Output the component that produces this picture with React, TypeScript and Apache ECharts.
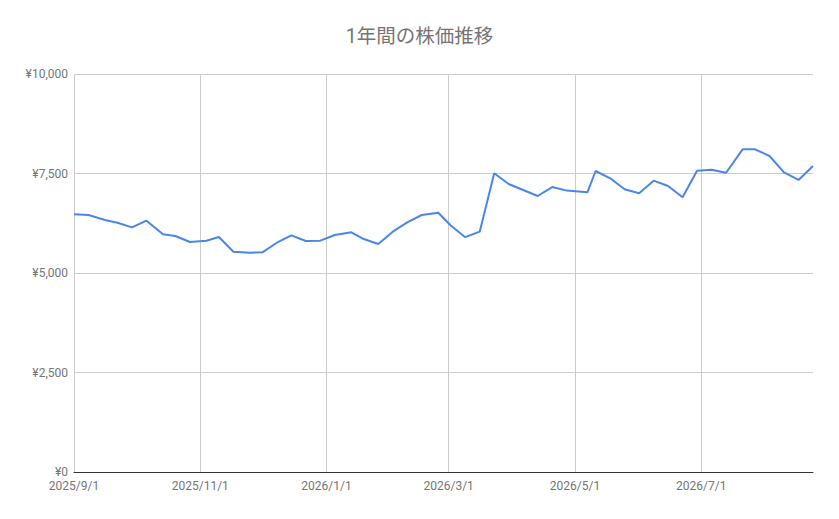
import React, { useEffect, useRef } from "react";
import * as echarts from "echarts";

const titleText = "1年間の株価推移";

// weekly first trading day
const dates = [
  "2025-09-01", "2025-09-08", "2025-09-16", "2025-09-22", "2025-09-29",
  "2025-10-06", "2025-10-14", "2025-10-20", "2025-10-27", "2025-11-04",
  "2025-11-10", "2025-11-17", "2025-11-25", "2025-12-01", "2025-12-08",
  "2025-12-15", "2025-12-22", "2025-12-29", "2026-01-05", "2026-01-13",
  "2026-01-19", "2026-01-26", "2026-02-02", "2026-02-09", "2026-02-16",
  "2026-02-24", "2026-03-02", "2026-03-09", "2026-03-16", "2026-03-23",
  "2026-03-30", "2026-04-06", "2026-04-13", "2026-04-20", "2026-04-27",
  "2026-05-07", "2026-05-11", "2026-05-18", "2026-05-25", "2026-06-01",
  "2026-06-08", "2026-06-15", "2026-06-22", "2026-06-29", "2026-07-06",
  "2026-07-13", "2026-07-21", "2026-07-27", "2026-08-03", "2026-08-10",
  "2026-08-17", "2026-08-24",
];

const prices = [
  6475, 6457, 6332, 6264, 6147, 6315, 5972, 5930, 5779, 5812,
  5905, 5535, 5510, 5520, 5761, 5947, 5804, 5812, 5955, 6022,
  5854, 5729, 6038, 6273, 6457, 6515, 6195, 5900, 6038, 7505,
  7236, 7085, 6935, 7160, 7070, 7027, 7563, 7379, 7103, 7002,
  7320, 7186, 6902, 7570, 7596, 7520, 8108, 8108, 7940, 7530,
  7337, 7688,
];

const xTickDates = ["2025-09-01", "2025-11-01", "2026-01-01", "2026-03-01", "2026-05-01", "2026-07-01"];

const toTime = (s: string) => {
  const [y, m, d] = s.split("-").map(Number);
  return new Date(y, m - 1, d).getTime();
};

const App: React.FC = () => {
  const chartRef = useRef<HTMLDivElement | null>(null);

  useEffect(() => {
    if (!chartRef.current) return;
    const chart = echarts.init(chartRef.current, null, { renderer: "svg" });
    const tickValues = xTickDates.map(toTime);

    chart.setOption({
      animation: false,
      backgroundColor: "#fff",
      title: {
        text: titleText,
        left: "center",
        top: 22,
        textStyle: {
          color: "#757575",
          fontSize: 19.5,
          fontWeight: "normal",
          fontFamily: "Roboto, 'Noto Sans CJK JP', sans-serif",
        },
      },
      grid: { left: 74, right: 26, top: 74, bottom: 47, containLabel: false },
      xAxis: {
        type: "value",
        min: toTime(dates[0]),
        max: toTime(dates[dates.length - 1]),
        axisLine: { show: true, onZero: false, lineStyle: { color: "#333", width: 1 } },
        axisTick: { show: false, customValues: tickValues },
        axisLabel: {
          customValues: tickValues,
          color: "#757575",
          fontSize: 12,
          margin: 8,
          fontFamily: "Roboto, sans-serif",
          formatter: (v: number) => {
            const d = new Date(v);
            return `${d.getFullYear()}/${d.getMonth() + 1}/${d.getDate()}`;
          },
        },
        splitLine: { show: true, lineStyle: { color: "#ccc", width: 1 } },
      },
      yAxis: {
        type: "value",
        min: 0,
        max: 10000,
        interval: 2500,
        axisLine: { show: false },
        axisTick: { show: false },
        axisLabel: {
          color: "#757575",
          fontSize: 12,
          margin: 6,
          fontFamily: "Roboto, sans-serif",
          formatter: (v: number) => "¥" + v.toLocaleString("en-US"),
        },
        splitLine: { show: true, lineStyle: { color: "#ccc", width: 1 } },
      },
      series: [
        {
          name: "株価",
          type: "line",
          data: dates.map((d, i) => [toTime(d), prices[i]]),
          showSymbol: false,
          smooth: false,
          lineStyle: { color: "#4a86e8", width: 2 },
          itemStyle: { color: "#4a86e8" },
        },
      ],
    });

    return () => {
      chart.dispose();
    };
  }, []);

  return (
    <div style={{ position: "fixed", left: 0, top: 0, width: 839, height: 519, background: "#fff" }}>
      <div ref={chartRef} style={{ width: 839, height: 519 }} />
    </div>
  );
};

export default App;
